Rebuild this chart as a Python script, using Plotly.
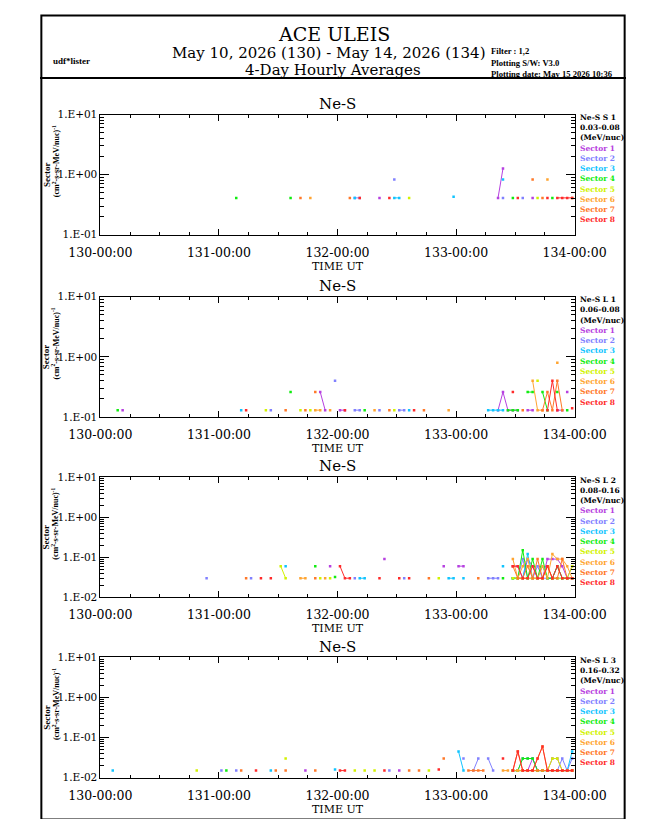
import plotly.graph_objects as go

W, H = 650, 819

# ---- данные ----
SECTOR_NAMES = ['Sector 1', 'Sector 2', 'Sector 3', 'Sector 4',
                'Sector 5', 'Sector 6', 'Sector 7', 'Sector 8']
SECTOR_COLORS = ['#b640e0', '#8080ff', '#10c4ff', '#10ec10',
                 '#d2f200', '#ffa430', '#ff7828', '#ff2a2a']

DAY_TICKS = [0, 24, 48, 72, 96]  # часы от 130-00:00
DAY_LABELS = ['130-00:00', '131-00:00', '132-00:00', '133-00:00', '134-00:00']

CHANNEL_NAMES = ['Ne-S S 1', 'Ne-S L 1', 'Ne-S L 2', 'Ne-S L 3']
CHANNEL_ENERGY = ['0.03-0.08', '0.06-0.08', '0.08-0.16', '0.16-0.32']
Y_DECADES = [(-1, 1), (-1, 1), (-2, 1), (-2, 1)]

# отрезки данных: номер сектора, первый час, почасовые потоки подряд
S1_SECTOR = [4, 4, 7, 6, 7, 3, 2, 8, 1, 8, 2, 3, 5, 3, 1, 3, 2, 4, 8, 2, 1, 7, 5, 7, 8, 6, 4, 8, 7]
S1_START = [27, 38, 40, 42, 50, 51, 51, 52, 56, 58, 59, 59, 62, 71, 80, 81, 81, 83, 84, 85, 87, 87, 88, 89, 90, 90, 91, 92, 95]
S1_FLUX = [[.41], [.41], [.41], [.41], [.41], [.41], [.41, .41], [.41], [.41], [.41], [.83], [.41, .41],
           [.41], [.43], [.41, 1.26], [.83], [.41], [.41], [.41], [.41], [.41], [.83], [.41], [.41],
           [.41], [.83], [.41], [.41, .41, .41, .41], [.41]]

L1_SECTOR = [4, 1, 3, 8, 5, 2, 7, 4, 5, 7, 5, 7, 6, 1, 6, 2, 1, 8, 2, 4, 6, 2, 7, 5, 2, 3, 8, 7, 6,
             3, 1, 4, 8, 7, 1, 4, 6, 5, 4, 7, 8, 6, 4, 1, 1, 4, 8]
L1_START = [3, 4, 28, 29, 33, 34, 37, 38, 40, 41, 42, 43, 43, 44, 46, 47, 48, 49, 51, 53, 55, 56, 58, 59, 60, 62, 63, 65, 70,
            78, 80, 82, 83, 85, 86, 86, 87, 88, 89, 89, 90, 92, 92, 92, 94, 94, 95]
L1_FLUX = [[.13], [.13], [.13], [.13], [.13], [.13], [.13], [.26], [.13], [.13], [.13], [.26], [.13, .13],
           [.26, .13], [.13], [.4], [.13, .13], [.13], [.13, .13], [.13], [.13], [.13], [.13], [.13],
           [.13, .13], [.13], [.13], [.13], [.13],
           [.13, .13, .13, .13], [.13, .26, .13, .13, .13], [.13, .13, .13], [.26], [.13], [.13, .13],
           [.26, .26], [.4, .13, .13], [.4], [.26, .13], [.13, .26, .13, .4, .13], [.13, .4, .13], [.8],
           [.26], [.13, .13], [.26], [.13], [.14]]

L2_SECTOR = [2, 7, 2, 8, 8, 5, 3, 6, 4, 7, 5, 6, 1, 5, 4, 8, 2, 3, 8, 1, 8, 2, 8, 7, 5, 1, 3, 1, 3, 7, 2, 3, 4,
             1, 2, 3, 4, 5, 6, 7, 8]
L2_START = [21, 29, 30, 32, 34, 36, 37, 40, 43, 43, 44, 45, 46, 46, 47, 48, 51, 52, 56, 57, 60, 61, 62, 66, 68, 69, 70,
            72, 73, 76, 78, 81, 81,
            83, 83, 83, 83, 83, 83, 83, 83]
L2_FLUX = [[.03], [.03], [.03], [.03], [.03], [.06, .03], [.06], [.03, .03], [.06], [.03], [.03], [.03], [.06],
           [.03], [.032], [.06, .03, .03], [.03], [.03, .03], [.03], [.09], [.03], [.03], [.03], [.03], [.03],
           [.06], [.03, .03], [.06, .06], [.03], [.03], [.03, .03, .03], [.06], [.03],
           [.06, .06, .03, .09, .06, .03, .03, .09, .09, .09, .06, .03, .06],
           [.03, .03, .09, .03, .03, .06, .03, .03, .03, .06, .03, .03, .03],
           [.03, .03, .03, .12, .03, .03, .06, .03, .03, .03, .03, .03, .03],
           [.03, .03, .15, .03, .09, .03, .09, .03, .03, .06, .03, .03, .03],
           [.03, .03, .03, .03, .03, .03, .03, .06, .03, .03, .03, .03, .06],
           [.09, .03, .06, .09, .03, .03, .06, .03, .12, .09, .09, .06, .03],
           [.06, .03, .03, .06, .03, .09, .03, .06, .03, .03, .09, .03, .03],
           [.06, .06, .03, .03, .06, .03, .03, .06, .03, .06, .03, .03, .03]]

L3_SECTOR = [3, 5, 2, 4, 2, 7, 8, 3, 7, 7, 5, 1, 7, 3, 8, 5, 5, 5, 8, 2, 1, 7, 7, 5, 8, 7,
             3, 2, 7, 2, 2, 8, 6,
             1, 2, 3, 4, 5, 6, 7, 8]
L3_START = [2, 19, 24, 25, 27, 28, 31, 34, 35, 37, 37, 41, 43, 47, 48, 51, 53, 55, 57, 58, 60, 62, 64, 66, 68, 69,
            72, 73, 74, 75, 78, 81, 81,
            83, 83, 83, 83, 83, 83, 83, 83]
L3_FLUX = [[.015], [.015], [.015], [.015], [.015], [.015], [.015], [.015], [.015], [.015], [.03], [.015], [.015],
           [.016], [.015, .015], [.015], [.015], [.015], [.015], [.015], [.015], [.015], [.015], [.015], [.016],
           [.03],
           [.045, .015], [.03], [.015, .015, .015, .015], [.015, .03], [.03, .015], [.03], [.015, .015],
           [.015, .015, .015, .015, .03, .015, .015, .015, .03, .03, .015, .015, .015],
           [.015, .015, .03, .03, .03, .015, .015, .015, .015, .015, .03, .015, .03],
           [.015, .015, .015, .015, .015, .015, .015, .015, .015, .015, .015, .015, .045],
           [.015, .015, .03, .03, .03, .015, .015, .015, .015, .015, .015, .015, .015],
           [.015, .015, .015, .015, .015, .015, .015, .015, .03, .03, .015, .015, .015],
           [.015, .015, .015, .015, .015, .03, .06, .015, .015, .015, .015, .015, .015],
           [.015, .045, .015, .015, .015, .015, .015, .015, .015, .015, .015, .015, .015],
           [.015, .045, .015, .015, .015, .03, .06, .015, .015, .015, .015, .015, .015]]

PANELS = [(S1_SECTOR, S1_START, S1_FLUX), (L1_SECTOR, L1_START, L1_FLUX),
          (L2_SECTOR, L2_START, L2_FLUX), (L3_SECTOR, L3_START, L3_FLUX)]

# ---- геометрия (пиксели страницы) ----
panel_top = [102, 287, 470, 653]
panel_h = 122
x_left, x_right = 67, 593
SERIF = 'DejaVu Serif'        # широкий шрифт, как у IDL
SERIF_B = 'Liberation Serif'  # мелкие жирные подписи


def fx(px):
    return px / W


def fy(py):
    return 1 - py / H


fig = go.Figure()
layout = {}
annotations = []

for i, (sectors, starts, fluxes) in enumerate(PANELS):
    n = '' if i == 0 else str(i + 1)
    top = panel_top[i]
    bot = top + panel_h

    for s in range(1, 9):
        xs, ys = [], []
        for sec, start, vals in zip(sectors, starts, fluxes):
            if sec != s:
                continue
            for k, v in enumerate(vals):
                xs.append(start + k + 0.5)
                ys.append(v)
            xs.append(None)
            ys.append(None)
        fig.add_trace(go.Scatter(
            x=xs, y=ys, xaxis='x' + n, yaxis='y' + n,
            mode='lines+markers', connectgaps=False,
            line=dict(color=SECTOR_COLORS[s - 1], width=1),
            marker=dict(size=2.5, symbol='square', color=SECTOR_COLORS[s - 1]),
            name=SECTOR_NAMES[s - 1], showlegend=False, hoverinfo='skip'))

    lo, hi = Y_DECADES[i]
    major = [10.0 ** d for d in range(lo, hi + 1)]
    minor = [k * 10.0 ** d for d in range(lo, hi) for k in range(2, 10)]

    layout['xaxis' + n] = dict(
        domain=[fx(x_left), fx(x_right)], anchor='y' + n, range=[0, 96],
        tickmode='array', tickvals=DAY_TICKS, ticktext=DAY_LABELS,
        ticks='inside', ticklen=6, tickwidth=1, tickcolor='black',
        minor=dict(ticks='inside', ticklen=3, tick0=0, dtick=6, tickcolor='black', showgrid=False),
        showline=True, linecolor='black', linewidth=1, mirror='ticks',
        showgrid=False, zeroline=False, ticklabelstandoff=6,
        tickfont=dict(family=SERIF, size=12.5, color='black'))
    layout['yaxis' + n] = dict(
        domain=[fy(bot), fy(top)], anchor='x' + n, type='log', range=[lo, hi],
        tickmode='array', tickvals=major, ticktext=['1.E%+03d' % d for d in range(lo, hi + 1)],
        ticks='inside', ticklen=9, tickwidth=1, tickcolor='black',
        minor=dict(ticks='inside', ticklen=4, tickmode='array', tickvals=minor, tickcolor='black',
                   showgrid=False),
        showline=True, linecolor='black', linewidth=1, mirror='ticks',
        showgrid=False, zeroline=False,
        tickfont=dict(family=SERIF, size=10.5, color='black'))

    # заголовок панели и подпись оси времени
    annotations.append(dict(text='Ne-S', x=fx((x_left + x_right) / 2), y=fy(top - 11),
                            font=dict(family=SERIF, size=15, color='black')))
    annotations.append(dict(text='TIME UT', x=fx((x_left + x_right) / 2), y=fy(bot + 32),
                            font=dict(family=SERIF, size=11, color='black')))
    # подпись оси Y
    annotations.append(dict(text='<b>Sector</b>', x=fx(7), y=fy((top + bot) / 2), textangle=-90,
                            font=dict(family=SERIF_B, size=9, color='black')))
    annotations.append(dict(text='<b>(cm<sup>2</sup>-s-sr-MeV/nuc)<sup>-1</sup></b>', x=fx(17),
                            y=fy((top + bot) / 2 - 14), textangle=-90,
                            font=dict(family=SERIF_B, size=8, color='black')))
    # легенда справа
    lines = [(CHANNEL_NAMES[i], 'black'), (CHANNEL_ENERGY[i], 'black'), ('(MeV/nuc)', 'black')]
    lines += list(zip(SECTOR_NAMES, SECTOR_COLORS))
    for j, (txt, col) in enumerate(lines):
        annotations.append(dict(text='<b>%s</b>' % txt, x=fx(597), y=fy(top + 3 + j * 10.4),
                                xanchor='left', font=dict(family=SERIF, size=7.5, color=col)))

# шапка
annotations += [
    dict(text='ACE ULEIS', x=fx(326), y=fy(20), font=dict(family=SERIF, size=19, color='black')),
    dict(text='May 10, 2026 (130) - May 14, 2026 (134)', x=fx(321), y=fy(40),
         font=dict(family=SERIF, size=15, color='black')),
    dict(text='4-Day Hourly Averages', x=fx(325), y=fy(57), font=dict(family=SERIF, size=15, color='black')),
    dict(text='<b>udf*lister</b>', x=fx(12), y=fy(48), xanchor='left',
         font=dict(family=SERIF_B, size=9, color='black')),
    dict(text='<b>Filter : 1,2</b>', x=fx(498), y=fy(38), xanchor='left',
         font=dict(family=SERIF_B, size=8.6, color='black')),
    dict(text='<b>Plotting S/W: V3.0</b>', x=fx(498), y=fy(50), xanchor='left',
         font=dict(family=SERIF_B, size=8.6, color='black')),
    dict(text='<b>Plotting date: May 15 2026 10:36</b>', x=fx(498), y=fy(61), xanchor='left',
         font=dict(family=SERIF_B, size=8.6, color='black')),
]
for a in annotations:
    a.update(xref='paper', yref='paper', showarrow=False)
    a.setdefault('xanchor', 'center')
    a.setdefault('yanchor', 'middle')

fig.update_layout(
    width=W, height=H, margin=dict(l=0, r=0, t=0, b=0),
    paper_bgcolor='white', plot_bgcolor='white',
    annotations=annotations,
    shapes=[dict(type='rect', xref='paper', yref='paper',
                 x0=fx(1.5), y0=fy(H - 1.5), x1=fx(W - 1.5), y1=fy(1.5),
                 line=dict(color='black', width=2)),
            dict(type='line', xref='paper', yref='paper', x0=0, x1=1, y0=fy(65), y1=fy(65),
                 line=dict(color='black', width=2))],
    **layout)

fig.write_html("out.html")
